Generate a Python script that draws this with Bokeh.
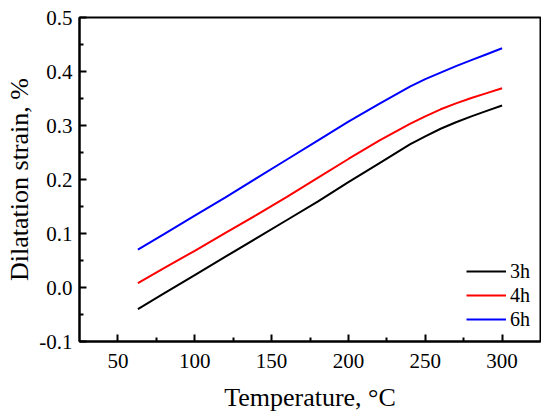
from bokeh.plotting import figure
from bokeh.embed import file_html
from bokeh.resources import INLINE
from bokeh.models import FixedTicker, PrintfTickFormatter, Range1d, Legend, LegendItem

temperature = [63, 80, 100, 120, 140, 160, 180, 200, 220, 240, 250, 260, 270, 280, 290, 300]
strain_3h = [-0.040, -0.011, 0.023, 0.057, 0.091, 0.125, 0.159, 0.195, 0.230, 0.265, 0.280, 0.294, 0.306, 0.317, 0.327, 0.337]
strain_4h = [0.008, 0.036, 0.068, 0.101, 0.134, 0.168, 0.203, 0.238, 0.272, 0.303, 0.317, 0.330, 0.341, 0.351, 0.360, 0.369]
strain_6h = [0.070, 0.099, 0.133, 0.167, 0.202, 0.237, 0.272, 0.307, 0.340, 0.372, 0.386, 0.398, 0.410, 0.421, 0.432, 0.443]
series_names = ["3h", "4h", "6h"]
series_colors = ["black", "red", "blue"]

x_ticks = [50, 100, 150, 200, 250, 300]
x_minor = [75, 125, 175, 225, 275]
y_ticks = [-0.1, 0.0, 0.1, 0.2, 0.3, 0.4, 0.5]
y_minor = [-0.05, 0.05, 0.15, 0.25, 0.35, 0.45]

FONT = "Liberation Serif"

p = figure(output_backend="svg", toolbar_location=None,
           x_range=Range1d(25, 325), y_range=Range1d(-0.1, 0.5),
           frame_width=461, frame_height=324,
           min_border_left=79, min_border_top=17, min_border_right=1, min_border_bottom=70)

items = []
for name, col, ys in zip(series_names, series_colors, [strain_3h, strain_4h, strain_6h]):
    r = p.line(temperature, ys, line_color=col, line_width=2)
    items.append(LegendItem(label=name, renderers=[r]))

legend = Legend(items=items, location="bottom_right")
legend.border_line_color = None
legend.background_fill_alpha = 0
legend.label_text_font = FONT
legend.label_text_font_size = "20px"
legend.label_text_color = "black"
legend.glyph_width = 40
legend.label_standoff = 4
legend.spacing = 0
legend.padding = 0
legend.margin = 10
legend.label_height = 24
legend.glyph_height = 24
p.add_layout(legend)

p.xgrid.visible = False
p.ygrid.visible = False
p.outline_line_color = "black"
p.outline_line_width = 2
p.outline_line_alpha = 1

p.xaxis.ticker = FixedTicker(ticks=x_ticks, minor_ticks=x_minor)
p.yaxis.ticker = FixedTicker(ticks=y_ticks, minor_ticks=y_minor)
p.yaxis.formatter = PrintfTickFormatter(format="%.1f")
p.xaxis.axis_label = "Temperature, °C"
p.yaxis.axis_label = "Dilatation strain, %"

for ax in [p.xaxis[0], p.yaxis[0]]:
    ax.axis_line_color = "black"
    ax.axis_line_width = 2
    ax.major_tick_in = 7
    ax.major_tick_out = 0
    ax.minor_tick_in = 4
    ax.minor_tick_out = 0
    ax.major_tick_line_color = "black"
    ax.minor_tick_line_color = "black"
    ax.major_tick_line_width = 2
    ax.minor_tick_line_width = 2
    ax.major_label_text_font = FONT
    ax.major_label_text_font_size = "21px"
    ax.major_label_text_color = "black"
    ax.axis_label_text_font = FONT
    ax.axis_label_text_font_size = "26px"
    ax.axis_label_text_font_style = "normal"
    ax.axis_label_text_color = "black"

p.xaxis.major_label_standoff = 12
p.xaxis.axis_label_standoff = 12
p.yaxis.major_label_standoff = 7
p.yaxis.axis_label_standoff = 2

open("out.html", "w").write(file_html(p, INLINE))
